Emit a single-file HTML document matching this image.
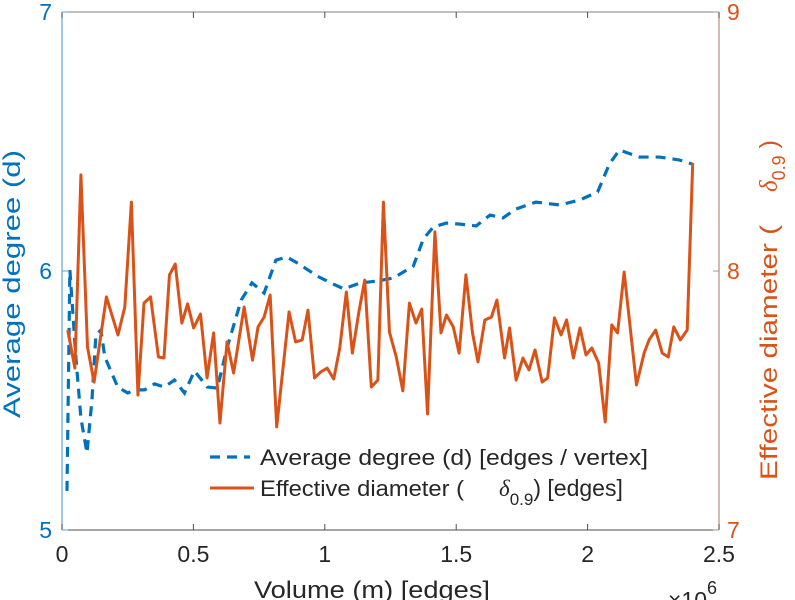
<!DOCTYPE html>
<html><head><meta charset="utf-8"><style>
body{margin:0;background:#fff;}
svg{display:block;font-family:"Liberation Sans",sans-serif;}
</style></head><body>
<svg id="chart" width="795" height="600" viewBox="0 0 795 600"></svg>
<script>
const xTicks=[0,0.5,1,1.5,2,2.5];
const xTickLabels=["0","0.5","1","1.5","2","2.5"];
const leftTicks=[5,6,7];
const rightTicks=[7,8,9];
const degreeX=[0.019,0.030,0.053,0.072,0.095,0.114,0.129,0.148,0.163,0.212,0.250,0.277,0.314,0.352,0.390,0.428,0.466,0.504,0.553,0.591,0.629,0.682,0.723,0.769,0.814,0.856,0.902,0.970,1.023,1.072,1.136,1.197,1.261,1.337,1.375,1.413,1.462,1.515,1.576,1.629,1.678,1.727,1.803,1.894,1.970,2.038,2.083,2.121,2.197,2.273,2.348,2.398];
const degreeY=[5.151,6.004,5.664,5.432,5.297,5.502,5.753,5.772,5.668,5.552,5.529,5.541,5.541,5.564,5.552,5.579,5.529,5.614,5.552,5.548,5.707,5.888,5.954,5.915,6.042,6.054,6.027,5.981,5.954,5.931,5.954,5.961,5.973,6.019,6.124,6.170,6.185,6.181,6.174,6.216,6.205,6.239,6.266,6.255,6.274,6.305,6.413,6.467,6.440,6.440,6.429,6.413];
const diamX=[0.022,0.049,0.072,0.097,0.122,0.169,0.213,0.239,0.264,0.289,0.312,0.337,0.367,0.388,0.409,0.431,0.456,0.478,0.501,0.527,0.552,0.577,0.601,0.628,0.653,0.693,0.725,0.746,0.769,0.792,0.817,0.864,0.889,0.914,0.936,0.961,0.984,1.009,1.034,1.057,1.082,1.105,1.129,1.152,1.177,1.202,1.223,1.246,1.272,1.297,1.322,1.347,1.369,1.391,1.419,1.442,1.463,1.489,1.511,1.537,1.562,1.583,1.609,1.634,1.655,1.684,1.703,1.728,1.754,1.777,1.800,1.827,1.848,1.874,1.899,1.920,1.946,1.971,1.994,2.016,2.042,2.067,2.092,2.114,2.139,2.186,2.215,2.234,2.259,2.284,2.307,2.328,2.353,2.379,2.400];
const diamY=[7.772,7.625,8.371,7.707,7.571,7.900,7.753,7.861,8.266,7.521,7.876,7.900,7.668,7.664,7.985,8.027,7.799,7.873,7.780,7.834,7.587,7.761,7.413,7.726,7.606,7.861,7.656,7.784,7.822,7.907,7.398,7.842,7.726,7.734,7.849,7.587,7.610,7.625,7.583,7.703,7.919,7.683,7.838,7.965,7.552,7.579,8.266,7.764,7.668,7.537,7.876,7.799,7.853,7.448,8.151,7.761,7.830,7.784,7.683,7.985,7.761,7.649,7.811,7.822,7.888,7.664,7.780,7.579,7.664,7.618,7.695,7.571,7.587,7.819,7.753,7.811,7.664,7.780,7.676,7.703,7.645,7.417,7.792,7.761,7.996,7.560,7.683,7.734,7.772,7.683,7.668,7.784,7.734,7.772,8.417];

const L=62,R=719,T=12,B=530;
const sx=v=>L+(v/2.5)*(R-L);
const syL=v=>B-(v-5)/2*(B-T);
const syR=v=>B-(v-7)/2*(B-T);
const svg=document.getElementById('chart');
const NS='http://www.w3.org/2000/svg';
function mk(tag,attrs,parent){const e=document.createElementNS(NS,tag);for(const k in attrs)e.setAttribute(k,attrs[k]);(parent||svg).appendChild(e);return e;}
const BLUE='#0072BD',ORANGE='#D95319';

let e;
e=mk('line',{x1:L,y1:B,x2:R,y2:B,stroke:'#4d4d4d','stroke-width':1});


e=mk('line',{x1:L,y1:T,x2:R,y2:T,stroke:'#4d4d4d','stroke-width':1,opacity:0.7});


e=mk('line',{x1:L,y1:T,x2:L,y2:B,stroke:'#5fa3d9','stroke-width':1.2});


e=mk('line',{x1:R,y1:T,x2:R,y2:B,stroke:'#b48c80','stroke-width':1.2});



xTicks.forEach((v,i)=>{
  const x=sx(v);
  mk('line',{x1:x,y1:B,x2:x,y2:B-6,stroke:'#4d4d4d'});
  mk('line',{x1:x,y1:T,x2:x,y2:T+6,stroke:'#4d4d4d'});
  const t=mk('text',{x:x,y:B+32,'text-anchor':'middle','font-size':23,fill:'#262626'});
  t.textContent=xTickLabels[i];
  
  
});
leftTicks.forEach(v=>{
  const y=syL(v);
  mk('line',{x1:L,y1:y,x2:L+6,y2:y,stroke:'#5fa3d9'});
  const t=mk('text',{x:L-10,y:y+8,'text-anchor':'end','font-size':23,fill:BLUE});
  t.textContent=String(v);
  
  
});
rightTicks.forEach(v=>{
  const y=syR(v);
  mk('line',{x1:R,y1:y,x2:R-6,y2:y,stroke:'#b48c80'});
  const t=mk('text',{x:R+8,y:y+8,'font-size':23,fill:ORANGE});
  t.textContent=String(v);
  
  
});

const pd=mk('polyline',{points:degreeX.map((x,i)=>sx(x)+','+syL(degreeY[i])).join(' '),fill:'none',stroke:BLUE,'stroke-width':3.2,'stroke-dasharray':'10,7'});


const po=mk('polyline',{points:diamX.map((x,i)=>sx(x)+','+syR(diamY[i])).join(' '),fill:'none',stroke:ORANGE,'stroke-width':3,'stroke-linejoin':'round'});



const lg=mk('g',{});


mk('line',{x1:210,y1:457,x2:250,y2:457,stroke:BLUE,'stroke-width':3.2,'stroke-dasharray':'10,7'},lg);
let t=mk('text',{x:260,y:465,'font-size':22,fill:'#262626',textLength:388,lengthAdjust:'spacingAndGlyphs'},lg);
t.textContent='Average degree (d) [edges / vertex]';


mk('line',{x1:210,y1:488,x2:254,y2:488,stroke:ORANGE,'stroke-width':3},lg);
t=mk('text',{x:260,y:496,'font-size':22,fill:'#262626',textLength:204,lengthAdjust:'spacingAndGlyphs'},lg);
t.textContent='Effective diameter (';


t=mk('text',{x:499,y:496,'font-size':23,fill:'#262626'},lg);
t.innerHTML='<tspan font-family="Liberation Serif" font-style="italic">δ</tspan><tspan font-size="17" dy="9">0.9</tspan><tspan dy="-9">) [edges]</tspan>';



t=mk('text',{x:0,y:0,'text-anchor':'middle','font-size':24,fill:BLUE,textLength:268,lengthAdjust:'spacingAndGlyphs',transform:'translate(20,284) rotate(-90)'});
t.textContent='Average degree (d)';


t=mk('text',{x:0,y:0,'font-size':24,fill:ORANGE,textLength:255,lengthAdjust:'spacingAndGlyphs',transform:'translate(777,480) rotate(-90)'});
t.textContent='Effective diameter (';


t=mk('text',{x:0,y:0,'font-size':25,fill:ORANGE,transform:'translate(777,192) rotate(-90)'});
t.innerHTML='<tspan font-family="Liberation Serif" font-style="italic">δ</tspan><tspan font-size="18" dy="8">0.9</tspan><tspan dy="-8"> )</tspan>';


t=mk('text',{x:372,y:598,'text-anchor':'middle','font-size':24,fill:'#262626',textLength:236,lengthAdjust:'spacingAndGlyphs'});
t.textContent='Volume (m) [edges]';


t=mk('text',{x:668,y:608,'font-size':23,fill:'#262626'});
t.innerHTML='×10<tspan font-size="18" dy="-14">6</tspan>';


</script>
</body></html>
